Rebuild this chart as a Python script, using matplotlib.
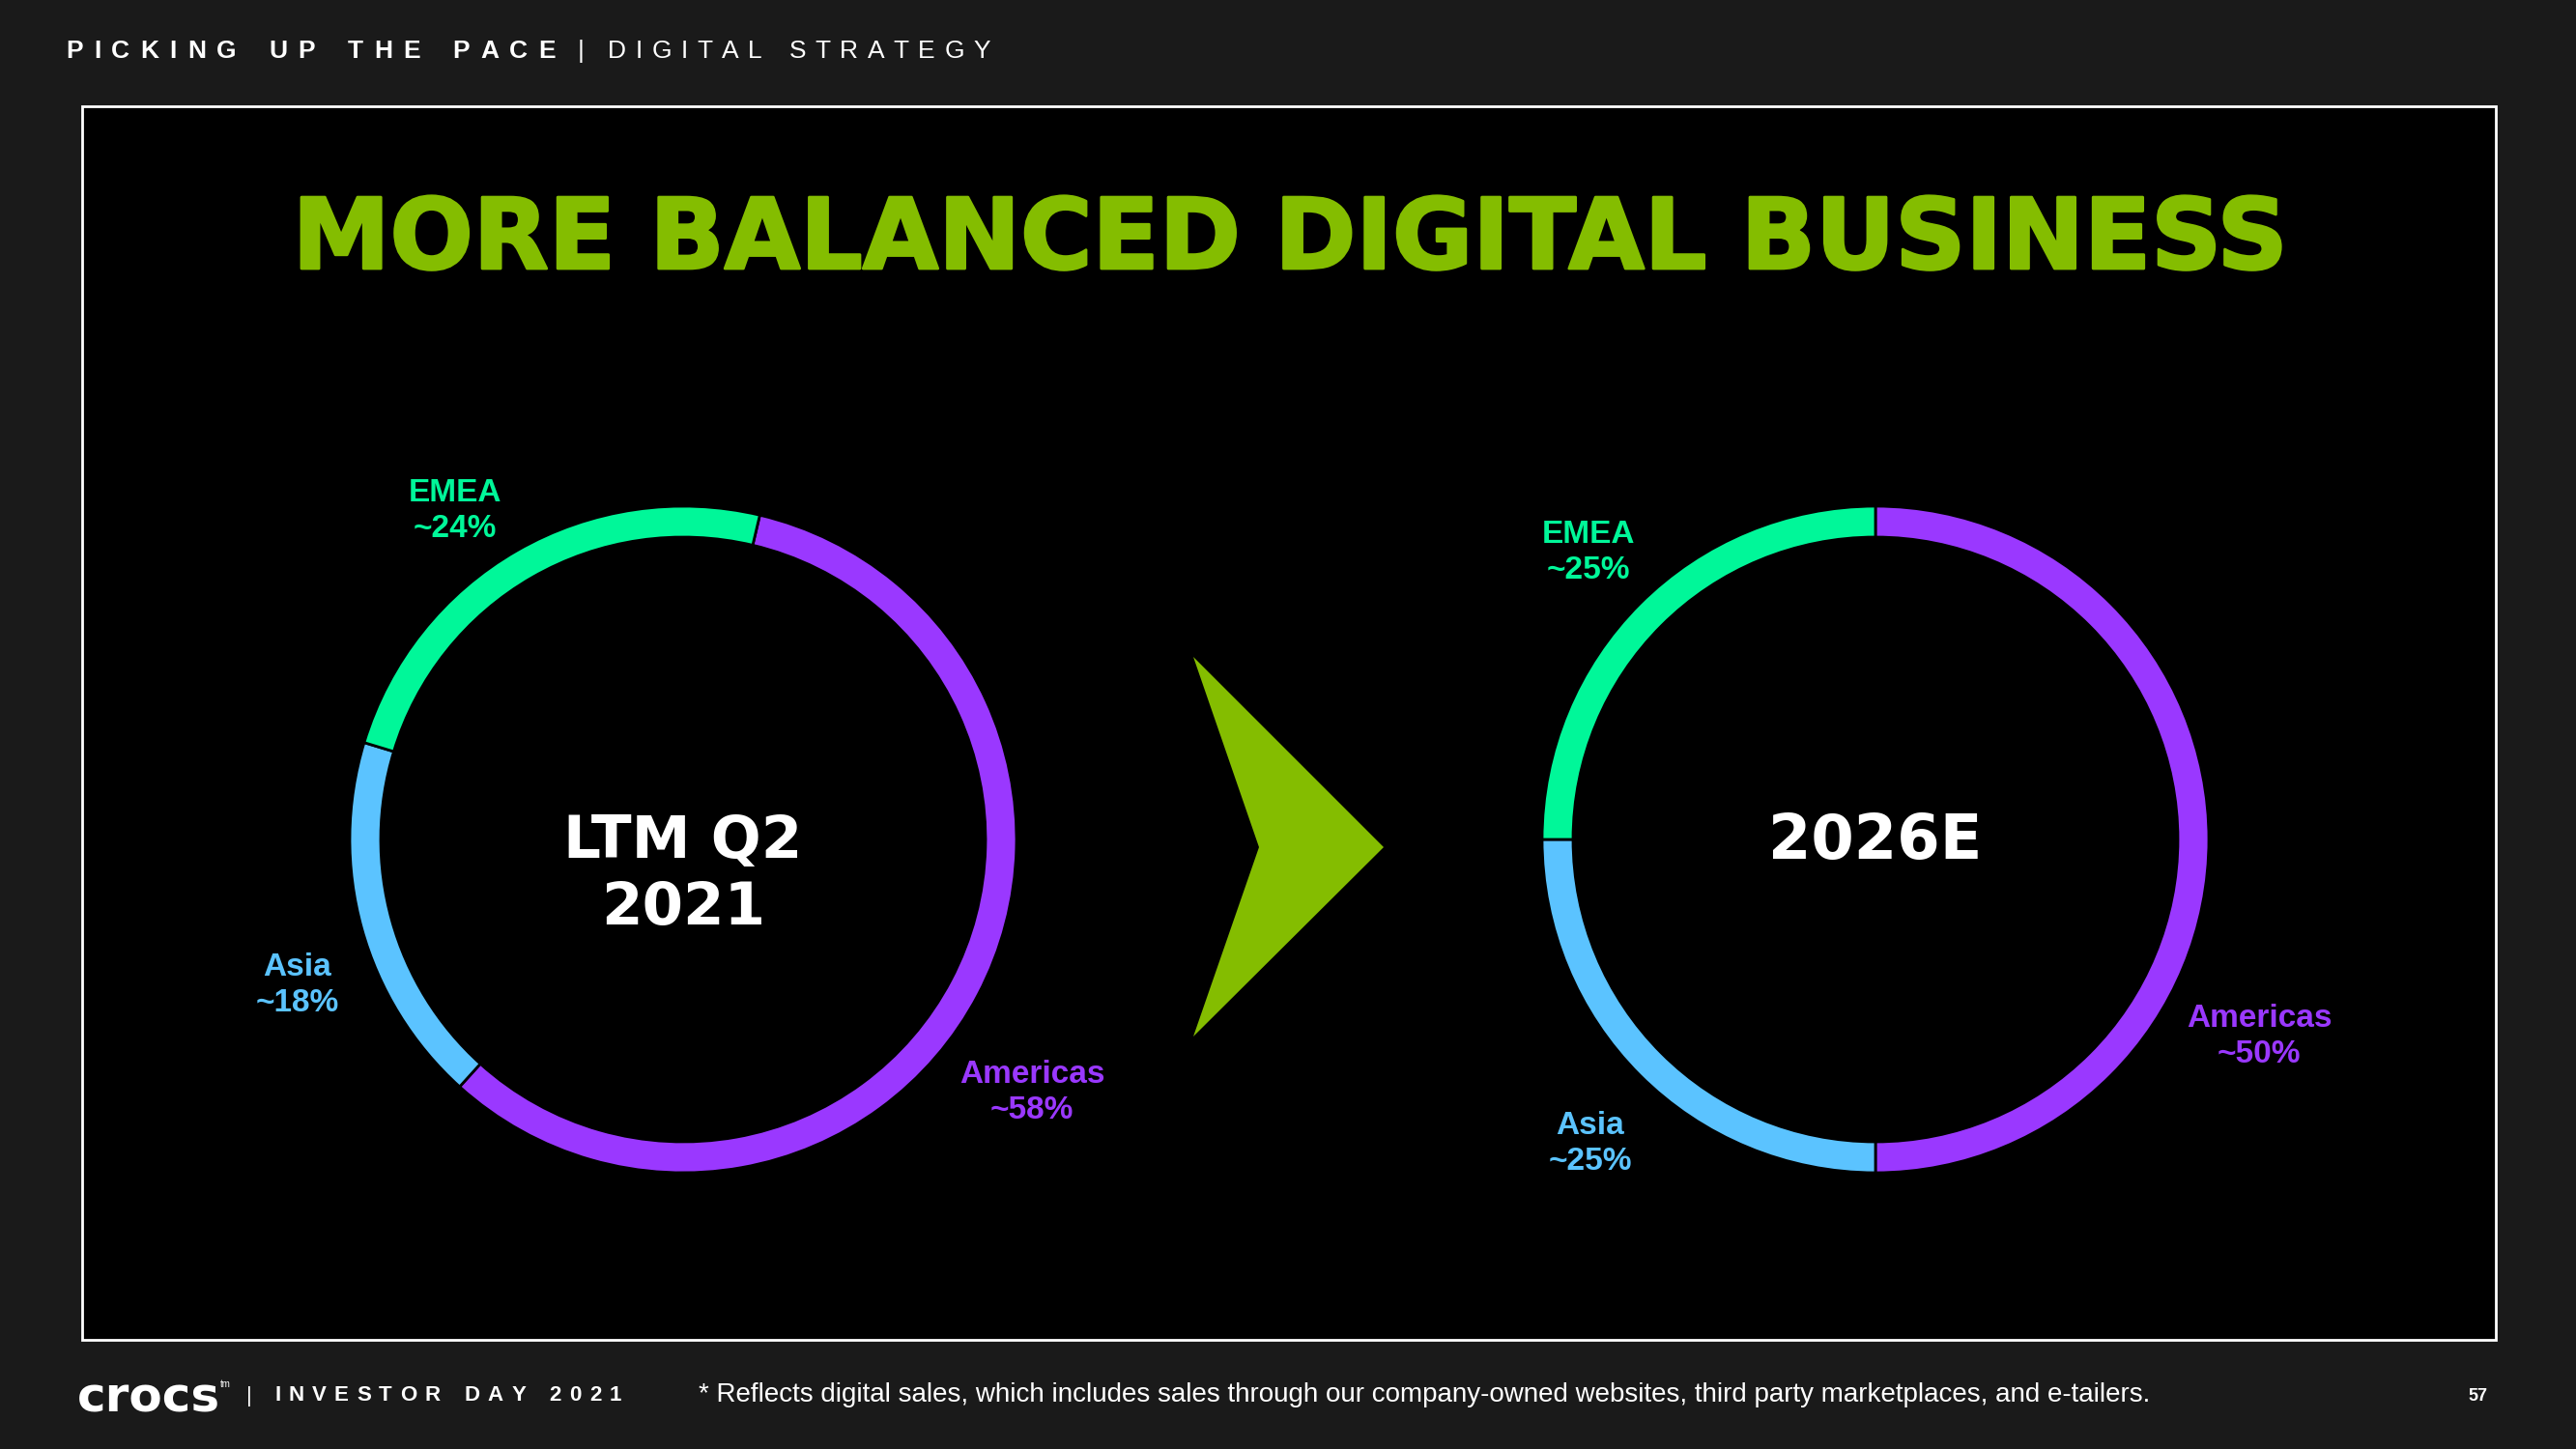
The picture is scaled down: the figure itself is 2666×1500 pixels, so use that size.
import numpy as np
import matplotlib.pyplot as plt
import matplotlib.patheffects as pe
from matplotlib.patches import Rectangle, Polygon

plt.rcParams['font.family'] = ['Liberation Sans', 'DejaVu Sans']
HEAVY = 'DejaVu Sans'   # closest installed stand-in for the slide's black weight

# data
regions = ['Americas', 'Asia', 'EMEA']
ltm_share = [58, 18, 24]
e2026_share = [50, 25, 25]
ltm_labels = ['Americas\n~58%', 'Asia\n~18%', 'EMEA\n~24%']
e2026_labels = ['Americas\n~50%', 'Asia\n~25%', 'EMEA\n~25%']
centre_titles = ['LTM Q2\n2021', '2026E']

# colours
PURPLE = '#9A38FF'
MINT = '#00F799'
SKY = '#5BC3FF'
LIME = '#84BD00'
ring_colors = [PURPLE, SKY, MINT]

W, H = 2666, 1500
fig = plt.figure(figsize=(W / 100, H / 100), dpi=100)
fig.patch.set_facecolor('#1a1a1a')

# full-page pixel axes for the slide furniture
bg = fig.add_axes([0, 0, 1, 1])
bg.set_xlim(0, W)
bg.set_ylim(H, 0)
bg.axis('off')

bg.add_patch(Rectangle((85, 110), 2498, 1277, facecolor='black',
                       edgecolor='white', linewidth=2))

renderer = fig.canvas.get_renderer()


def tracked(x0, x1, y, s, **kw):
    # letter-spaced text stretched between x0 and x1
    arts = [bg.text(0, y, ch, ha='left', va='center', **kw) for ch in s]
    widths = [a.get_window_extent(renderer).width if ch != ' ' else 0
              for a, ch in zip(arts, s)]
    n_sp = s.count(' ')
    gap = (x1 - x0 - sum(widths)) / (len(s) - 1 + n_sp)
    x = x0
    for a, ch, w in zip(arts, s, widths):
        a.set_x(x)
        x += w + gap * (2 if ch == ' ' else 1)


tracked(68, 575, 53, 'PICKING UP THE PACE', color='white', fontsize=19, fontweight='bold')
bg.text(598, 53, '|', color='white', fontsize=19, ha='left', va='center')
tracked(629, 1025, 53, 'DIGITAL STRATEGY', color='white', fontsize=19)

bg.text(1334, 250, 'MORE BALANCED DIGITAL BUSINESS', color=LIME, fontsize=73,
        family=HEAVY, fontweight='bold', ha='center', va='center',
        path_effects=[pe.withStroke(linewidth=2, foreground=LIME)])

# arrow
bg.add_patch(Polygon([(1235, 680), (1432, 877), (1235, 1073), (1303, 877)],
                     closed=True, facecolor=LIME, edgecolor='none'))


def donut(cx, cy, shares, start):
    r = 345
    ax = fig.add_axes([(cx - r) / W, 1 - (cy + r) / H, 2 * r / W, 2 * r / H])
    ax.pie(shares, colors=ring_colors, startangle=start, counterclock=False,
           radius=1, wedgeprops=dict(width=32 / r, edgecolor='black', linewidth=2))
    ax.set_xlim(-1, 1)
    ax.set_ylim(-1, 1)
    ax.set_aspect('equal')
    ax.axis('off')
    return ax


donut(707, 869, ltm_share, 76.7)
donut(1941, 869, e2026_share, 90)

bg.text(707, 906, centre_titles[0], color='white', fontsize=44, family=HEAVY,
        fontweight='bold', ha='center', va='center', linespacing=1.22)
bg.text(1941, 871, centre_titles[1], color='white', fontsize=46, family=HEAVY,
        fontweight='bold', ha='center', va='center')

lab_kw = dict(fontsize=24, fontweight='bold', ha='center', va='center', linespacing=1.25)
ltm_pos = [(1068, 1131), (308, 1020), (471, 529)]
e26_pos = [(2338, 1073), (1646, 1184), (1644, 572)]
for lab, pos, c in zip(ltm_labels, ltm_pos, ring_colors):
    bg.text(pos[0], pos[1], lab, color=c, **lab_kw)
for lab, pos, c in zip(e2026_labels, e26_pos, ring_colors):
    bg.text(pos[0], pos[1], lab, color=c, **lab_kw)

# footer
bg.text(80, 1447, 'crocs', color='white', fontsize=36, family=HEAVY,
        fontweight='bold', ha='left', va='center')
bg.text(228, 1433, 'tm', color='white', fontsize=7, ha='left', va='center')
bg.text(255, 1445, '|', color='white', fontsize=16, ha='left', va='center')
tracked(284, 643, 1445, 'INVESTOR DAY 2021', color='white', fontsize=16, fontweight='bold')
bg.text(723, 1444, '* Reflects digital sales, which includes sales through our company-owned '
        'websites, third party marketplaces, and e-tailers.', color='white',
        fontsize=20, ha='left', va='center')
bg.text(2564, 1446, '57', color='white', fontsize=13, fontweight='bold',
        ha='center', va='center')

fig.savefig('out.png', dpi=100, facecolor=fig.get_facecolor())
